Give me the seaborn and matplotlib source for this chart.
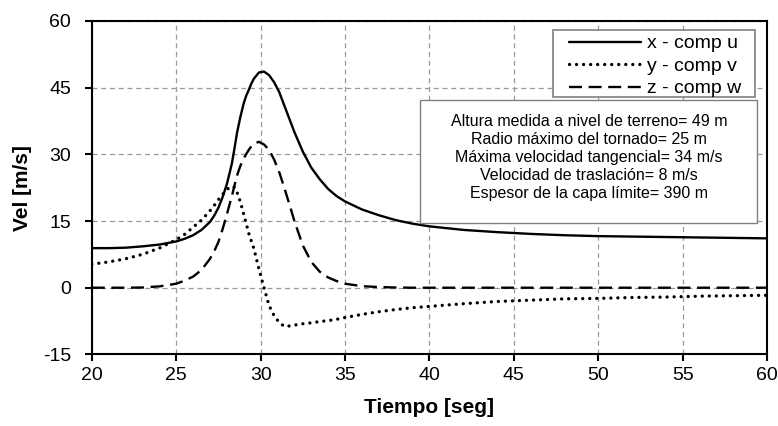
import numpy as np
import pandas as pd
import matplotlib
matplotlib.use("Agg")
import matplotlib.pyplot as plt
from matplotlib.patches import Rectangle
import seaborn as sns

# --- datos ---
tiempo = [20, 21, 22, 23, 24, 25, 25.5, 26, 26.5, 27, 27.25, 27.5, 27.75, 28,
          28.15, 28.3, 28.45, 28.6, 28.8, 29, 29.15, 29.3, 29.45, 29.6, 29.9,
          30.2, 30.5, 30.8, 31.1, 31.4, 31.7, 32, 32.5, 33, 33.5, 34, 34.5, 35,
          36, 37, 38, 39, 40, 42, 44, 46, 48, 50, 52, 54, 56, 58, 60]

comp_u = [8.9, 8.9, 9.0, 9.3, 9.7, 10.4, 11.0, 11.8, 13.0, 14.8, 16.2, 18.0,
          20.4, 23.3, 25.6, 28.0, 31.3, 34.8, 38.4, 41.5, 43.2, 44.5, 45.9,
          47.0, 48.4, 48.6, 47.8, 46.2, 44.0, 41.0, 38.0, 35.0, 30.6, 27.0,
          24.4, 22.2, 20.6, 19.4, 17.6, 16.3, 15.2, 14.4, 13.8, 13.0, 12.5,
          12.1, 11.8, 11.6, 11.5, 11.4, 11.3, 11.2, 11.1]

comp_v = [5.3, 5.8, 6.5, 7.5, 8.9, 10.8, 12.0, 13.6, 15.2, 17.3, 18.5, 19.8,
          21.0, 22.0, 22.6, 22.8, 22.6, 21.5, 19.3, 16.5, 14.4, 12.2, 10.5,
          8.8, 4.2, 0.0, -4.0, -6.3, -7.8, -8.7, -8.6, -8.4, -8.1, -7.9, -7.6,
          -7.4, -7.1, -6.7, -6.0, -5.4, -4.9, -4.5, -4.2, -3.6, -3.1, -2.8,
          -2.5, -2.4, -2.2, -2.1, -1.9, -1.8, -1.7]

comp_w = [0.0, 0.0, 0.0, 0.05, 0.3, 0.9, 1.6, 2.5, 4.0, 6.5, 8.2, 10.3, 13.2,
          16.5, 18.6, 20.6, 23.0, 25.2, 27.4, 29.0, 30.1, 31.0, 31.8, 32.4,
          32.8, 32.2, 31.0, 28.8, 26.0, 22.5, 18.8, 15.0, 9.5, 5.8, 3.6, 2.3,
          1.5, 0.9, 0.35, 0.15, 0.05, 0.0, 0.0, 0.0, 0.0, 0.0, 0.0, 0.0, 0.0,
          0.0, 0.0, 0.0, 0.0]

etiquetas = ["x - comp u", "y - comp v", "z - comp w"]
x_ticks = [20, 25, 30, 35, 40, 45, 50, 55, 60]
y_ticks = [-15, 0, 15, 30, 45, 60]

parametros = ["Altura medida a nivel de terreno= 49 m",
              "Radio máximo del tornado= 25 m",
              "Máxima velocidad tangencial= 34 m/s",
              "Velocidad de traslación= 8 m/s",
              "Espesor de la capa límite= 390 m"]

# --- estilo ---
sns.set_theme(style="white")
plt.rcParams.update({
    'font.family': ['Liberation Sans', 'DejaVu Sans'],
    'axes.unicode_minus': False,
    'axes.edgecolor': 'black',
    'axes.labelcolor': 'black',
    'text.color': 'black',
    'axes.linewidth': 1.5,
    'xtick.color': 'black',
    'ytick.color': 'black',
})

df = pd.DataFrame({'t': tiempo, 'u': comp_u, 'v': comp_v, 'w': comp_w})

fig, ax = plt.subplots(figsize=(7.78, 4.26), dpi=100)
fig.subplots_adjust(left=0.118, right=0.986, top=0.951, bottom=0.168)

sns.lineplot(data=df, x='t', y='u', ax=ax, color='black', lw=1.7,
             sort=False, estimator=None, label=etiquetas[0])
sns.lineplot(data=df, x='t', y='v', ax=ax, color='black', lw=2.4,
             linestyle=(0, (0.01, 2.1)), dash_capstyle='round',
             sort=False, estimator=None, label=etiquetas[1])
sns.lineplot(data=df, x='t', y='w', ax=ax, color='black', lw=1.7,
             linestyle=(0, (5.5, 2.8)), sort=False, estimator=None,
             label=etiquetas[2])

ax.set_xlim(20, 60)
ax.set_ylim(-15, 60)
ax.set_xticks(x_ticks)
ax.set_yticks(y_ticks)
ax.tick_params(axis='both', labelsize=14, direction='out', length=5,
               width=1.5, bottom=True, left=True, labelcolor='black')
ax.tick_params(axis='x', pad=4)
ax.tick_params(axis='y', pad=10)
ax.grid(True, color='#999999', linestyle=(0, (4, 3)), linewidth=0.9)
ax.set_axisbelow(True)
for s in ax.spines.values():
    s.set_visible(True)
    s.set_color('black')
    s.set_linewidth(1.5)

ax.set_xlabel("Tiempo [seg]", fontsize=15, fontweight='bold', labelpad=10)
ax.set_ylabel("Vel [m/s]", fontsize=15, fontweight='bold', labelpad=7.5)

# leyenda sin marco propio, con recuadro dibujado aparte
leg = ax.legend(loc='upper right', bbox_to_anchor=(0.962, 0.958),
                borderaxespad=0, fontsize=14, handlelength=3.7,
                handletextpad=0.3, labelspacing=0.25, borderpad=0.0,
                frameon=False, labelcolor='black')
leg.set_zorder(6)
marco = Rectangle((0.683, 0.773), 0.299, 0.201, transform=ax.transAxes,
                  facecolor='white', edgecolor='#808080', lw=1.2, zorder=4)
ax.add_patch(marco)

# cuadro de parámetros
caja = Rectangle((0.486, 0.395), 0.499, 0.369, transform=ax.transAxes,
                 facecolor='white', edgecolor='#808080', lw=1.0, zorder=4)
ax.add_patch(caja)
ax.text(0.736, 0.589, "\n".join(parametros), transform=ax.transAxes,
        ha='center', va='center', multialignment='center', fontsize=11.5,
        linespacing=1.25, color='black', zorder=5)

plt.savefig('out.png', dpi=100)
